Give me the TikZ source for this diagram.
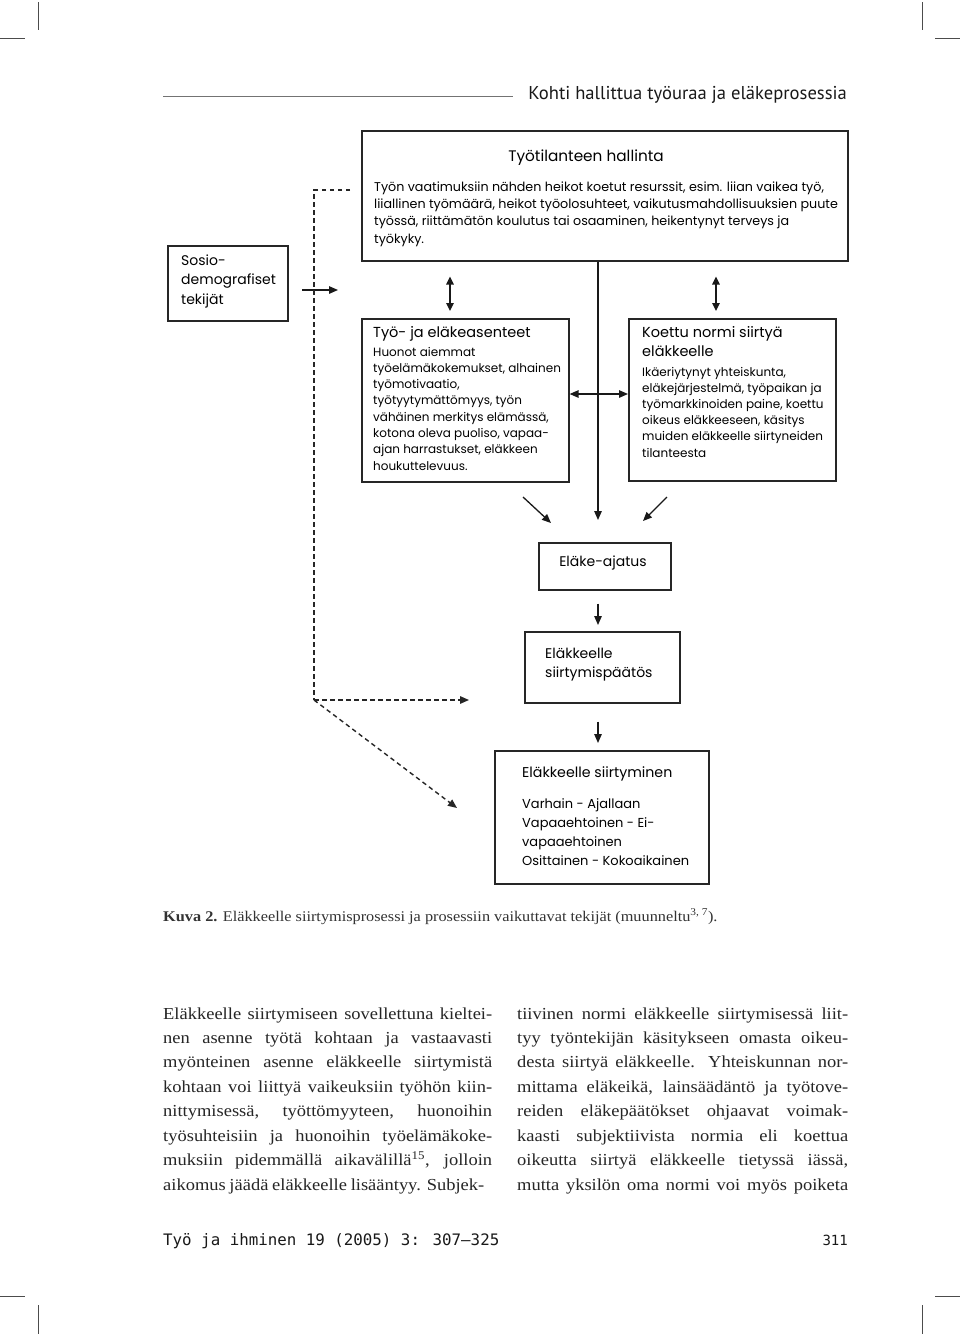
\documentclass[tikz,border=0pt]{standalone}
\usepackage{fontspec}
\setmainfont[FakeStretch=1.1]{Liberation Serif}
\newfontfamily\dg{Poppins}
\newfontfamily\hd{PT Sans}
\newfontfamily\mono{DejaVu Sans Mono}
\usetikzlibrary{arrows.meta,calc}
\newcommand\lns[2]{\vtop{\baselineskip=#1pt\relax\lineskiplimit=-50pt\halign{##\hfil\cr#2\crcr}}}
\tikzset{
  box/.style={draw=black!85, line width=1.6pt, inner sep=0pt, anchor=north west},
  dtxt/.style={inner sep=0pt, anchor=base west, text=black},
  tsz/.style={font=\dg\fontsize{14.5}{17}\selectfont},
  bsz/.style={font=\dg\fontsize{12}{16}\selectfont},
  arr/.style={line width=1.3pt, draw=black!90, -{Triangle[length=9pt,width=7.5pt]}},
  darr/.style={line width=1.3pt, draw=black!90, {Triangle[length=8pt,width=7.5pt]}-{Triangle[length=8pt,width=7.5pt]}},
  dashln/.style={line width=1.4pt, draw=black!85, dash pattern=on 4.5pt off 3.5pt},
  dasharr/.style={dashln, -{Triangle[length=9pt,width=7.5pt]}},
  crop/.style={line width=0.8pt, draw=black!70},
  bodytxt/.style={inner sep=0pt, anchor=base west, text=black!85, font=\fontsize{16.8}{24.5}\selectfont},
}
\begin{document}
\begin{tikzpicture}[x=1pt,y=-1pt]
\fill[white] (0,0) rectangle (960,1334);
\useasboundingbox (0,0) rectangle (960,1334);
% crop marks
\draw[crop] (38,2) -- (38,30); \draw[crop] (0,38) -- (25,38);
\draw[crop] (922,2) -- (922,30); \draw[crop] (935,38) -- (960,38);
\draw[crop] (0,1296) -- (25,1296); \draw[crop] (38,1305) -- (38,1334);
\draw[crop] (935,1296) -- (960,1296); \draw[crop] (922,1305) -- (922,1334);
% header
\coordinate (hl1) at (163,96); \coordinate (hl2) at (513,96);
\draw[line width=0.8pt, draw=black!55] (hl1) -- (hl2);
\node[inner sep=0pt, anchor=base east, font=\hd\fontsize{18.6}{20}\selectfont, text=black!90] (hdr) at (847,99) {Kohti hallittua työuraa ja eläkeprosessia};

% boxes
\node[box, minimum width=486, minimum height=130] (top) at (361,130) {};
\node[box, minimum width=120, minimum height=75] (socio) at (167,245) {};
\node[box, minimum width=207, minimum height=163] (att) at (361,318) {};
\node[box, minimum width=207, minimum height=162] (norm) at (628,318) {};
\node[box, minimum width=132, minimum height=47] (idea) at (538,542) {};
\node[box, minimum width=155, minimum height=71] (dec) at (524,631) {};
\node[box, minimum width=214, minimum height=133] (ret) at (494,750) {};

% texts
\node[dtxt, font=\dg\fontsize{15.3}{17}\selectfont, anchor=base] (topT) at (586,161) {Työtilanteen hallinta};
\node[dtxt, font=\dg\fontsize{12.7}{16}\selectfont] (topB) at (374,191) {\lns{17.4}{Työn vaatimuksiin nähden heikot koetut resurssit, esim. liian vaikea työ,\cr
liiallinen työmäärä, heikot työolosuhteet, vaikutusmahdollisuuksien puute\cr
työssä, riittämätön koulutus tai osaaminen, heikentynyt terveys ja\cr
työkyky.}};
\node[dtxt, font=\dg\fontsize{14}{17}\selectfont] (socioT) at (181,265) {\lns{19.8}{Sosio-\cr demografiset\cr tekijät}};
\node[dtxt, tsz] (attT) at (373,337) {Työ- ja eläkeasenteet};
\node[dtxt, bsz] (attB) at (373,356) {\lns{16.3}{Huonot aiemmat\cr
työelämäkokemukset, alhainen\cr
työmotivaatio,\cr
työtyytymättömyys, työn\cr
vähäinen merkitys elämässä,\cr
kotona oleva puoliso, vapaa-\cr
ajan harrastukset, eläkkeen\cr
houkuttelevuus.}};
\node[dtxt, tsz] (normT) at (642,337) {\lns{19.5}{Koettu normi siirtyä\cr eläkkeelle}};
\node[dtxt, bsz] (normB) at (642,376) {\lns{16.2}{Ikäeriytynyt yhteiskunta,\cr
eläkejärjestelmä, työpaikan ja\cr
työmarkkinoiden paine, koettu\cr
oikeus eläkkeeseen, käsitys\cr
muiden eläkkeelle siirtyneiden\cr
tilanteesta}};
\node[dtxt, font=\dg\fontsize{14}{17}\selectfont, anchor=base] (ideaT) at (603,566) {Eläke-ajatus};
\node[dtxt, font=\dg\fontsize{14}{17}\selectfont] (decT) at (545,658) {\lns{19.5}{Eläkkeelle\cr siirtymispäätös}};
\node[dtxt, font=\dg\fontsize{14.2}{17}\selectfont] (retT) at (522,777) {Eläkkeelle siirtyminen};
\node[dtxt, font=\dg\fontsize{13}{16}\selectfont] (retB) at (522,808) {\lns{19.2}{Varhain - Ajallaan\cr
Vapaaehtoinen - Ei-\cr
vapaaehtoinen\cr
Osittainen - Kokoaikainen}};

% connectors
\coordinate (cx) at (598,0);
\coordinate (xL) at (450,0);
\coordinate (xR) at (716,0);
\coordinate (hm) at (598,394);
\draw[arr] (top.south -| cx) -- ($(idea.north -| cx)+(0,-22)$);
\draw[arr] (hm) -- (att.east |- hm);
\draw[arr] (hm) -- (norm.west |- hm);
\draw[darr] ($(top.south -| xL)+(0,15)$) -- ($(att.north -| xL)+(0,-7)$);
\draw[darr] ($(top.south -| xR)+(0,15)$) -- ($(norm.north -| xR)+(0,-7)$);
\coordinate (dl1) at (523,497); \coordinate (dl2) at (551,523);
\coordinate (dr1) at (667,497); \coordinate (dr2) at (643,521);
\draw[arr] (dl1) -- (dl2);
\draw[arr] (dr1) -- (dr2);
\draw[arr] ($(idea.south -| cx)+(0,13)$) -- ($(dec.north -| cx)+(0,-6)$);
\draw[arr] ($(dec.south -| cx)+(0,18)$) -- ($(ret.north -| cx)+(0,-7)$);
\coordinate (sa) at (302,290); \coordinate (sb) at (338,290);
\draw[arr] (sa) -- (sb);
% dashed
\coordinate (dt) at (350,190); \coordinate (dc) at (314,190); \coordinate (db) at (314,700);
\coordinate (dh) at (469,700); \coordinate (dd) at (457,808);
\draw[dashln] (dt) -- (dc) -- (db);
\draw[dasharr] (db) -- (dh);
\draw[dasharr] (db) -- (dd);

% caption
\node[inner sep=0pt, anchor=base west, text=black!80, font=\fontsize{14.8}{17}\selectfont] (cap) at (163,921) {\textbf{Kuva 2.} Eläkkeelle siirtymisprosessi ja prosessiin vaikuttavat tekijät (muunneltu\textsuperscript{3, 7}).};

% body text
\node[bodytxt] (colL) at (163,1019) {\vtop{\baselineskip=24.45pt
\hbox to 329pt{Eläkkeelle siirtymiseen sovellettuna kieltei-}
\hbox to 329pt{nen asenne työtä kohtaan ja vastaavasti}
\hbox to 329pt{myönteinen asenne eläkkeelle siirtymistä}
\hbox to 329pt{kohtaan voi liittyä vaikeuksiin työhön kiin-}
\hbox to 329pt{nittymisessä, työttömyyteen, huonoihin}
\hbox to 329pt{työsuhteisiin ja huonoihin työelämäkoke-}
\hbox to 329pt{muksiin pidemmällä aikavälillä\textsuperscript{15}, jolloin}
\hbox to 321pt{aikomus jäädä eläkkeelle lisääntyy. Subjek-}}};
\node[bodytxt] (colR) at (517,1019) {\vtop{\baselineskip=24.45pt
\hbox to 331pt{tiivinen normi eläkkeelle siirtymisessä liit-}
\hbox to 331pt{tyy työntekijän käsitykseen omasta oikeu-}
\hbox to 331pt{desta siirtyä eläkkeelle. Yhteiskunnan nor-}
\hbox to 331pt{mittama eläkeikä, lainsäädäntö ja työtove-}
\hbox to 331pt{reiden eläkepäätökset ohjaavat voimak-}
\hbox to 331pt{kaasti subjektiivista normia eli koettua}
\hbox to 331pt{oikeutta siirtyä eläkkeelle tietyssä iässä,}
\hbox to 331pt{mutta yksilön oma normi voi myös poiketa}}};

% footer
\node[inner sep=0pt, anchor=base west, text=black!90, font=\mono\fontsize{15.8}{18}\selectfont] (ftr) at (163,1245) {Työ ja ihminen 19 (2005) 3: 307—325};
\node[inner sep=0pt, anchor=base east, text=black!90, font=\mono\fontsize{14}{18}\selectfont] (pg) at (848,1245) {311};
\end{tikzpicture}
\end{document}
